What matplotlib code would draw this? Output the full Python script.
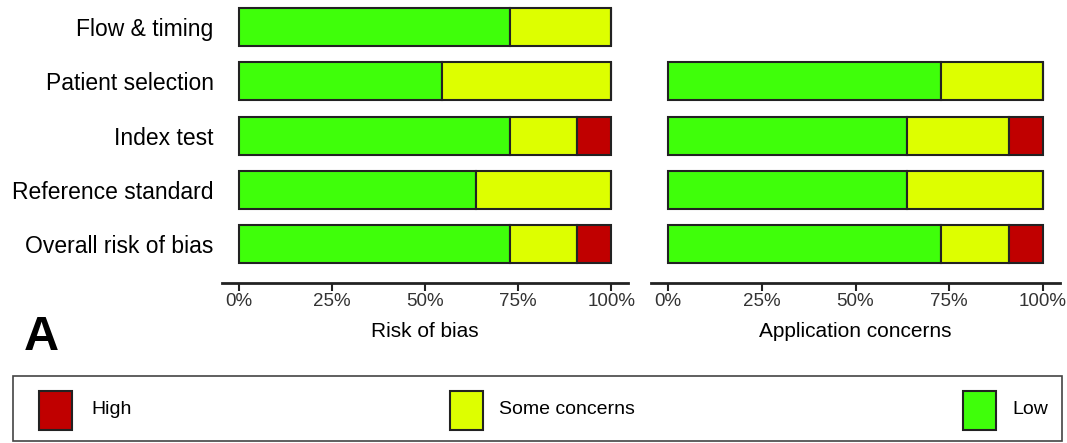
import matplotlib.pyplot as plt
from matplotlib.patches import Rectangle

# 11 studies -> proportions in %
rob_domains = ["Flow & timing", "Patient selection", "Index test",
               "Reference standard", "Overall risk of bias"]
rob_low = [72.7, 54.5, 72.7, 63.6, 72.7]
rob_some = [27.3, 45.5, 18.2, 36.4, 18.2]
rob_high = [0.0, 0.0, 9.1, 0.0, 9.1]

app_domains = ["Patient selection", "Index test",
               "Reference standard", "Overall risk of bias"]
app_low = [72.7, 63.6, 63.6, 72.7]
app_some = [27.3, 27.3, 36.4, 18.2]
app_high = [0.0, 9.1, 0.0, 9.1]

xticks = [0, 25, 50, 75, 100]
xtick_labels = ["0%", "25%", "50%", "75%", "100%"]

C_LOW = "#3fff0a"
C_SOME = "#ddff00"
C_HIGH = "#c00000"

plt.rcParams["font.family"] = ["Liberation Sans", "DejaVu Sans"]

fig = plt.figure(figsize=(10.67, 4.43), dpi=100)


def draw_panel(ax, domains, low, some, high, ypos, xlabel, show_labels):
    ax.barh(ypos, low, height=0.7, color=C_LOW, edgecolor="#222222", lw=1.5)
    ax.barh(ypos, some, left=low, height=0.7, color=C_SOME,
            edgecolor="#222222", lw=1.5)
    lefts = [a + b for a, b in zip(low, some)]
    ax.barh(ypos, high, left=lefts, height=0.7, color=C_HIGH,
            edgecolor="#222222", lw=1.5)
    ax.set_xlim(-4.5, 104.5)
    ax.set_ylim(-0.72, 4.5)
    for s in ["top", "right", "left"]:
        ax.spines[s].set_visible(False)
    ax.spines["bottom"].set_linewidth(2)
    ax.spines["bottom"].set_color("#222222")
    ax.set_xticks(xticks)
    ax.set_xticklabels(xtick_labels, fontsize=13.5, color="#333333")
    ax.tick_params(axis="x", length=6, width=1.5, color="#222222", pad=1)
    ax.set_xlabel(xlabel, fontsize=15, labelpad=9)
    if show_labels:
        ax.set_yticks(ypos)
        ax.set_yticklabels(domains, fontsize=16.5)
        ax.tick_params(axis="y", length=0, pad=6)
    else:
        ax.set_yticks([])


ax1 = fig.add_axes([222 / 1067, 0.3612, 406 / 1067, 0.6388])
rob_y = list(range(len(rob_domains) - 1, -1, -1))
draw_panel(ax1, rob_domains, rob_low, rob_some, rob_high, rob_y,
           "Risk of bias", True)

ax2 = fig.add_axes([651 / 1067, 0.3612, 409 / 1067, 0.6388])
app_y = list(range(len(app_domains) - 1, -1, -1))
draw_panel(ax2, app_domains, app_low, app_some, app_high, app_y,
           "Application concerns", False)

fig.text(24 / 1067, (443 - 350) / 443, "A", fontsize=35,
         fontweight="bold", va="baseline", ha="left")

# legend box
W, H = 1067.0, 443.0
fig.patches.append(Rectangle((13 / W, 2 / H), 1049 / W, 65 / H,
                             transform=fig.transFigure, fill=False,
                             edgecolor="#444444", lw=1.2))
legend_items = [("High", C_HIGH, 39, 91), ("Some concerns", C_SOME, 450, 499),
                ("Low", C_LOW, 963, 1012)]
for label, col, px, tx in legend_items:
    fig.patches.append(Rectangle((px / W, 13 / H), 33 / W, 39 / H,
                                 transform=fig.transFigure, facecolor=col,
                                 edgecolor="#222222", lw=1.5))
    fig.text(tx / W, 33 / H, label, fontsize=14, va="center", ha="left")

fig.savefig("out.png", dpi=100)
